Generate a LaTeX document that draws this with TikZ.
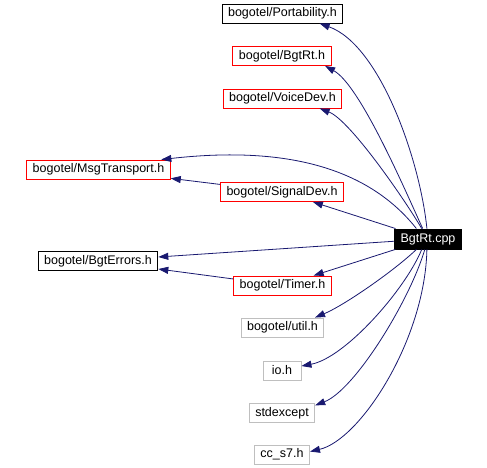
\documentclass[tikz,border=0pt]{standalone}
\usepackage{fontspec}
\setmainfont{Liberation Sans}
\usetikzlibrary{arrows.meta}
\definecolor{edgeblue}{HTML}{191970}
\definecolor{linkred}{HTML}{FF0000}
\definecolor{sysgrey}{HTML}{BFBFBF}

\begin{document}
\begin{tikzpicture}[
    x=1pt, y=-1pt,
    box/.style={rectangle, draw=black, fill=white, text=black, line width=0.9pt,
                minimum height=19pt, minimum width=38pt, inner xsep=6pt, inner ysep=0pt,
                font=\fontsize{12.5}{14}\selectfont},
    redbox/.style={box, draw=linkred},
    sysbox/.style={box, draw=sysgrey},
    cppbox/.style={box, fill=black, text=white, minimum height=20pt},
    arr/.style={-{Triangle[length=10pt,width=7pt]}, draw=edgeblue, line width=0.8pt}
  ]
  \useasboundingbox (0,0) rectangle (487,468);

  \node[box]    (port)  at (282.5,13.5)  {bogotel/Portability.h};
  \node[redbox] (bgtrt) at (282,56)      {bogotel/BgtRt.h};
  \node[redbox] (voice) at (282.5,98.5)  {bogotel/VoiceDev.h};
  \node[redbox] (msg)   at (98.5,169.5)  {bogotel/MsgTransport.h};
  \node[redbox] (sig)   at (282,192)     {bogotel/SignalDev.h};
  \node[cppbox] (cpp)   at (428,239)     {BgtRt.cpp};
  \node[box]    (err)   at (98,261)      {bogotel/BgtErrors.h};
  \node[redbox] (timer) at (282.5,285.5) {bogotel/Timer.h};
  \node[sysbox] (util)  at (282.5,327.5) {bogotel/util.h};
  \node[sysbox] (io)    at (282,370.5)   {io.h};
  \node[sysbox] (stdx)  at (282,413)     {stdexcept};
  \node[sysbox] (ccs)   at (282,454.5)   {cc\_s7.h};

  % includes of BgtRt.cpp
  \draw[arr] (cpp.96)  .. controls (420,160) and (380,45)  .. (port.-15);
  \draw[arr] (cpp.117) .. controls (405,190) and (360,85)  .. (bgtrt.-13);
  \draw[arr] (cpp.121) .. controls (405,200) and (350,120) .. (voice.-15);
  \draw[arr] (cpp.138) .. controls (370,170) and (290,145) .. (msg.9);
  \draw[arr] (cpp) -- (sig);
  \draw[arr] (cpp) -- (err);
  \draw[arr] (cpp) -- (timer);
  \draw[arr] (cpp.-138) .. controls (395,270) and (345,305) .. (util.17);
  \draw[arr] (cpp.-121) .. controls (405,290) and (345,358) .. (io.13);
  \draw[arr] (cpp.-107) .. controls (410,300) and (355,390) .. (stdx.13);
  \draw[arr] (cpp.-96)  .. controls (425,340) and (360,440) .. (ccs.6);

  % nested includes
  \draw[arr] (sig) -- (msg);
  \draw[arr] (timer) -- (err);
\end{tikzpicture}
\end{document}
